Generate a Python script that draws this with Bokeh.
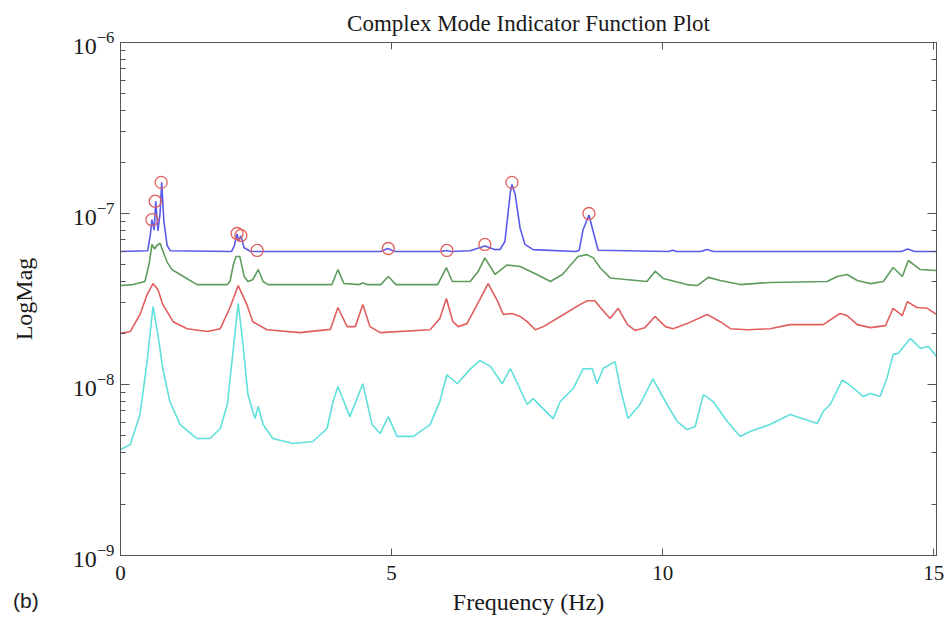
from bokeh.plotting import figure
from bokeh.models import (Range1d, LogAxis, LinearAxis, FixedTicker, LogTicker,
                          CustomJSTickFormatter, Div)
from bokeh.layouts import column
from bokeh.embed import file_html
from bokeh.resources import INLINE

# ---- data (frequency in Hz, magnitude) ----
blue_f = [0.0, 0.50, 0.55, 0.58, 0.62, 0.65, 0.69, 0.73, 0.76, 0.80, 0.86, 0.92, 2.05, 2.10, 2.15, 2.18,
          2.22, 2.28, 2.40, 4.80, 4.93, 5.06, 5.90, 6.01, 6.10, 6.45, 6.72, 6.90, 7.00, 7.09, 7.19, 7.22,
          7.28, 7.37, 7.46, 7.61, 8.40, 8.46, 8.53, 8.64, 8.72, 8.81, 10.10, 10.18, 10.26, 10.70, 10.82,
          10.94, 14.40, 14.52, 14.64, 15.05]
blue_v = [6.00e-8, 6.05e-8, 7.5e-8, 9.2e-8, 8.0e-8, 1.18e-7, 7.9e-8, 1.0e-7, 1.52e-7, 9.0e-8, 6.5e-8,
          6.05e-8, 6.0e-8, 6.5e-8, 7.6e-8, 6.9e-8, 7.4e-8, 6.3e-8, 6.0e-8, 6.0e-8, 6.24e-8, 6.0e-8, 6.0e-8,
          6.08e-8, 6.0e-8, 6.05e-8, 6.45e-8, 6.15e-8, 6.16e-8, 6.86e-8, 1.33e-7, 1.48e-7, 1.29e-7, 8.2e-8,
          6.6e-8, 6.15e-8, 6.0e-8, 6.1e-8, 8.0e-8, 9.8e-8, 7.8e-8, 6.1e-8, 6.0e-8, 6.1e-8, 6.0e-8, 6.0e-8,
          6.15e-8, 6.0e-8, 6.0e-8, 6.2e-8, 6.0e-8, 6.0e-8]

green_f = [0.0, 0.23, 0.45, 0.53, 0.58, 0.63, 0.67, 0.73, 0.82, 0.86, 0.95, 1.10, 1.41, 1.97, 2.02, 2.08,
           2.13, 2.20, 2.28, 2.35, 2.44, 2.54, 2.63, 2.72, 3.90, 4.01, 4.12, 4.40, 4.47, 4.55, 4.80, 4.94,
           5.08, 5.85, 6.01, 6.12, 6.45, 6.60, 6.72, 6.91, 7.13, 7.37, 7.68, 7.93, 8.15, 8.44, 8.60, 8.72,
           8.85, 9.03, 9.71, 9.86, 10.01, 10.45, 10.64, 10.84, 11.06, 11.43, 11.98, 13.03, 13.22, 13.40,
           13.59, 13.83, 14.07, 14.25, 14.42, 14.53, 14.75, 15.05]
green_v = [3.79e-8, 3.84e-8, 4.0e-8, 5.1e-8, 6.6e-8, 6.2e-8, 6.5e-8, 6.7e-8, 5.6e-8, 5.2e-8, 4.7e-8,
           4.4e-8, 3.84e-8, 3.84e-8, 4.0e-8, 5.0e-8, 5.6e-8, 5.6e-8, 4.3e-8, 4.0e-8, 4.1e-8, 4.7e-8,
           4.0e-8, 3.84e-8, 3.84e-8, 4.7e-8, 3.9e-8, 3.84e-8, 3.92e-8, 3.84e-8, 3.84e-8, 4.28e-8, 3.84e-8,
           3.84e-8, 4.83e-8, 4.0e-8, 4.0e-8, 4.6e-8, 5.5e-8, 4.4e-8, 5.0e-8, 4.9e-8, 4.4e-8, 4.0e-8,
           4.4e-8, 5.6e-8, 5.75e-8, 5.5e-8, 4.8e-8, 4.2e-8, 4.0e-8, 4.6e-8, 4.17e-8, 3.84e-8, 3.79e-8,
           4.23e-8, 4.06e-8, 3.84e-8, 3.95e-8, 4.0e-8, 4.28e-8, 4.40e-8, 4.06e-8, 3.89e-8, 4.0e-8,
           4.83e-8, 4.28e-8, 5.31e-8, 4.70e-8, 4.64e-8]

red_f = [0.0, 0.18, 0.36, 0.49, 0.60, 0.69, 0.78, 0.97, 1.23, 1.60, 1.84, 2.02, 2.17, 2.33, 2.44, 2.70,
         3.31, 3.87, 4.01, 4.18, 4.33, 4.47, 4.60, 4.79, 5.71, 5.89, 6.01, 6.13, 6.23, 6.39, 6.58, 6.78,
         6.95, 7.06, 7.22, 7.37, 7.50, 7.65, 7.80, 8.11, 8.48, 8.61, 8.75, 8.85, 9.03, 9.18, 9.35, 9.49,
         9.67, 9.86, 10.05, 10.19, 10.45, 10.82, 11.06, 11.25, 11.56, 11.98, 12.35, 12.96, 13.27, 13.40,
         13.59, 13.83, 14.11, 14.25, 14.42, 14.51, 14.69, 14.88, 15.05]
red_v = [1.99e-8, 2.04e-8, 2.57e-8, 3.35e-8, 3.89e-8, 3.59e-8, 2.94e-8, 2.33e-8, 2.12e-8, 2.04e-8,
         2.12e-8, 2.82e-8, 3.79e-8, 2.94e-8, 2.33e-8, 2.09e-8, 2.01e-8, 2.10e-8, 2.82e-8, 2.18e-8,
         2.18e-8, 2.94e-8, 2.18e-8, 2.01e-8, 2.09e-8, 2.43e-8, 3.18e-8, 2.33e-8, 2.18e-8, 2.27e-8,
         2.94e-8, 3.89e-8, 3.09e-8, 2.57e-8, 2.60e-8, 2.50e-8, 2.33e-8, 2.09e-8, 2.18e-8, 2.50e-8,
         2.94e-8, 3.09e-8, 3.09e-8, 2.82e-8, 2.43e-8, 2.79e-8, 2.24e-8, 2.07e-8, 2.15e-8, 2.50e-8,
         2.18e-8, 2.12e-8, 2.27e-8, 2.57e-8, 2.33e-8, 2.12e-8, 2.09e-8, 2.12e-8, 2.24e-8, 2.24e-8,
         2.60e-8, 2.53e-8, 2.24e-8, 2.15e-8, 2.21e-8, 2.79e-8, 2.53e-8, 3.05e-8, 2.82e-8, 2.79e-8, 2.57e-8]

cyan_f = [0.0, 0.18, 0.36, 0.49, 0.60, 0.69, 0.78, 0.91, 1.10, 1.41, 1.65, 1.84, 1.97, 2.07, 2.17, 2.26,
          2.35, 2.48, 2.54, 2.63, 2.81, 3.18, 3.55, 3.81, 3.92, 4.01, 4.23, 4.47, 4.64, 4.79, 4.94, 5.10,
          5.40, 5.71, 5.89, 6.02, 6.21, 6.45, 6.63, 6.82, 7.04, 7.19, 7.33, 7.50, 7.61, 7.98, 8.11, 8.35,
          8.53, 8.70, 8.79, 8.90, 9.12, 9.22, 9.36, 9.58, 9.82, 10.08, 10.27, 10.45, 10.60, 10.75, 10.93,
          11.19, 11.43, 11.61, 11.98, 12.35, 12.85, 12.96, 13.09, 13.31, 13.42, 13.70, 13.83, 14.01,
          14.14, 14.25, 14.34, 14.57, 14.75, 14.90, 15.05]
cyan_v = [4.17e-9, 4.46e-9, 6.67e-9, 1.36e-8, 2.86e-8, 1.96e-8, 1.24e-8, 7.95e-9, 5.83e-9, 4.83e-9,
          4.83e-9, 5.53e-9, 7.64e-9, 1.50e-8, 2.98e-8, 1.72e-8, 8.73e-9, 6.32e-9, 7.43e-9, 5.83e-9,
          4.83e-9, 4.52e-9, 4.64e-9, 5.53e-9, 7.95e-9, 9.73e-9, 6.49e-9, 1.01e-8, 5.83e-9, 5.17e-9,
          6.49e-9, 4.97e-9, 4.97e-9, 5.83e-9, 7.95e-9, 1.14e-8, 1.01e-8, 1.23e-8, 1.38e-8, 1.28e-8,
          1.01e-8, 1.24e-8, 1.00e-8, 7.64e-9, 8.27e-9, 6.32e-9, 7.95e-9, 9.47e-9, 1.23e-8, 1.24e-8,
          1.01e-8, 1.24e-8, 1.36e-8, 9.47e-9, 6.32e-9, 7.64e-9, 1.08e-8, 7.64e-9, 6.07e-9, 5.45e-9,
          5.68e-9, 8.73e-9, 7.95e-9, 6.07e-9, 4.97e-9, 5.31e-9, 5.83e-9, 6.67e-9, 5.91e-9, 6.95e-9,
          7.64e-9, 1.06e-8, 1.01e-8, 8.50e-9, 8.85e-9, 8.50e-9, 1.10e-8, 1.50e-8, 1.52e-8, 1.86e-8,
          1.63e-8, 1.67e-8, 1.46e-8]

peak_f = [0.58, 0.64, 0.75, 2.15, 2.22, 2.52, 4.94, 6.02, 6.72, 7.22, 8.64]
peak_v = [9.2e-8, 1.18e-7, 1.52e-7, 7.64e-8, 7.44e-8, 6.08e-8, 6.24e-8, 6.08e-8, 6.59e-8, 1.52e-7, 1.0e-7]

x_ticks = [0, 5, 10, 15]
title_text = "Complex Mode Indicator Function Plot"
x_label = "Frequency (Hz)"
y_label = "LogMag"
panel_tag = "(b)"

SERIF = "Liberation Serif"
AX = "#555555"

p = figure(width=945, height=619, x_range=Range1d(0, 15.05), y_range=Range1d(1e-9, 1e-6),
           y_axis_type="log", output_backend="svg", toolbar_location=None,
           min_border_left=120, min_border_right=9, min_border_top=42, min_border_bottom=64,
           title=title_text, background_fill_color="white", border_fill_color="white")
p.title.align = "center"
p.title.text_font = SERIF
p.title.text_font_style = "normal"
p.title.text_font_size = "23px"
p.title.text_color = "#1a1a1a"
p.title.standoff = 14
p.grid.visible = False
p.outline_line_color = AX

# bottom axis
xa = p.xaxis[0]
xa.ticker = FixedTicker(ticks=x_ticks)
xa.major_tick_in = 7
xa.major_tick_out = 0
xa.minor_tick_in = 0
xa.minor_tick_out = 0
xa.axis_line_color = AX
xa.major_tick_line_color = AX
xa.major_label_text_font = SERIF
xa.major_label_text_font_size = "21px"
xa.major_label_text_color = "#1a1a1a"
xa.major_label_standoff = 10
xa.axis_label = x_label
xa.axis_label_text_font = SERIF
xa.axis_label_text_font_style = "normal"
xa.axis_label_text_font_size = "24px"
xa.axis_label_text_color = "#1a1a1a"
xa.axis_label_standoff = 6

# left axis
ya = p.yaxis[0]
ya.major_tick_in = 9
ya.major_tick_out = 0
ya.minor_tick_in = 5
ya.minor_tick_out = 0
ya.axis_line_color = AX
ya.major_tick_line_color = AX
ya.minor_tick_line_color = AX
ya.major_label_text_font = SERIF
ya.major_label_text_font_size = "24px"
ya.major_label_text_color = "#1a1a1a"
ya.major_label_standoff = 6
ya.axis_label = y_label
ya.axis_label_text_font = SERIF
ya.axis_label_text_font_style = "normal"
ya.axis_label_text_font_size = "24px"
ya.axis_label_text_color = "#1a1a1a"
ya.axis_label_standoff = 33

blank = CustomJSTickFormatter(code="return '';")

# right axis (ticks only)
ra = LogAxis(ticker=LogTicker(), formatter=blank, major_tick_in=9, major_tick_out=0, minor_tick_in=5,
             minor_tick_out=0, major_label_text_font_size="2px", major_label_standoff=0,
             axis_line_color=AX, major_tick_line_color=AX, minor_tick_line_color=AX)
p.add_layout(ra, "right")

# top axis (ticks only)
ta = LinearAxis(ticker=FixedTicker(ticks=x_ticks), formatter=blank, major_tick_in=7, major_tick_out=0,
                minor_tick_in=0, minor_tick_out=0, major_label_text_font_size="2px",
                major_label_standoff=0, axis_line_color=AX, major_tick_line_color=AX)
p.add_layout(ta, "above")

# curves
p.line(cyan_f, cyan_v, line_color="#5fe0da", line_width=1.6)
p.line(red_f, red_v, line_color="#e05e5e", line_width=1.6)
p.line(green_f, green_v, line_color="#5e9c5e", line_width=1.6)
p.line(blue_f, blue_v, line_color="#5a5ae8", line_width=1.6)
p.scatter(peak_f, peak_v, marker="circle", size=12, fill_color=None, line_color="#e06060", line_width=1.3)

# panel tag "(b)": a small text block pulled up over the bottom-left corner of the figure
tag = Div(text='<span style="font-family: \'Liberation Sans\'; font-size: 21px; color: #1a1a1a; '
               'line-height: 24px; white-space: nowrap;">' + panel_tag + '</span>',
          width=40, height=30, margin=(-30, 0, 0, 13))

layout = column(p, tag, spacing=0)

open("out.html", "w").write(file_html(layout, INLINE))
